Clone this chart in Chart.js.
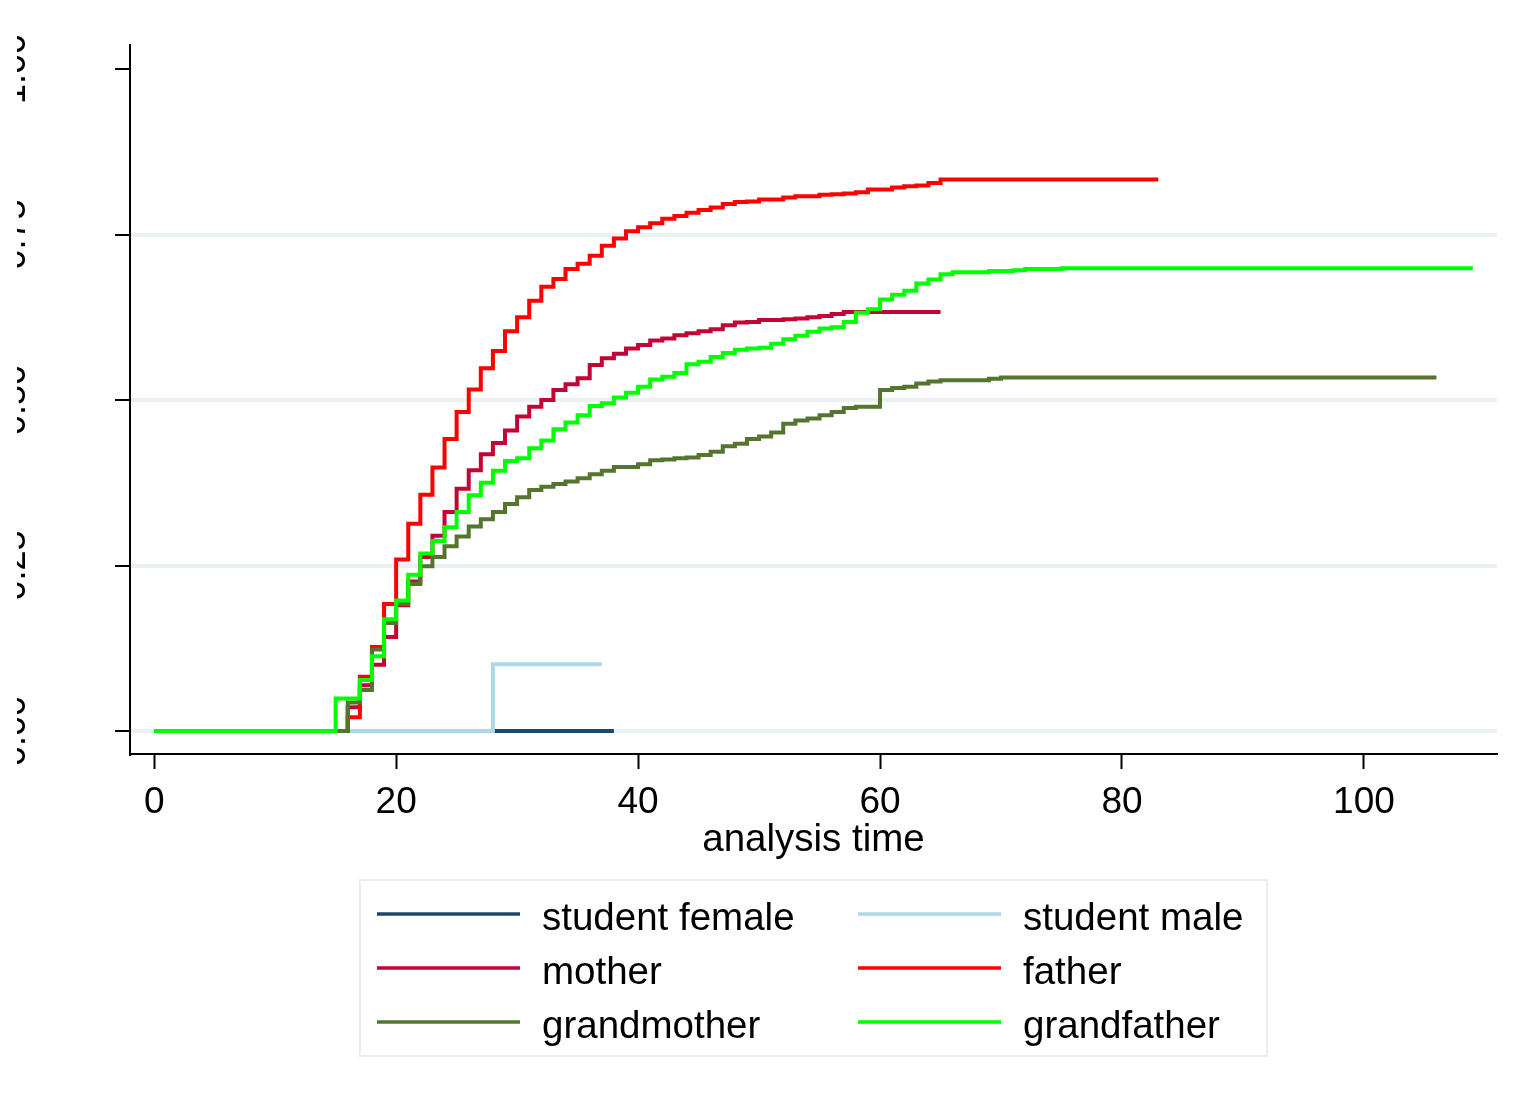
<!DOCTYPE html>
<html>
<head>
<meta charset="utf-8">
<title>Kaplan-Meier failure estimates</title>
<script src="https://cdn.jsdelivr.net/npm/chart.js@4.4.1/dist/chart.umd.min.js"></script>
<style>
    html, body { margin: 0; padding: 0; background: #fff; }
    #wrap { width: 1526px; height: 1102px; position: relative; }
</style>
</head>
<body>
<div id="wrap"><canvas id="km-chart"></canvas></div>
<script>
    const FONT = "'Liberation Sans', Arial, sans-serif";

    // tick labels
    const xTicks = [0, 20, 40, 60, 80, 100];
    const yTicks = [0, 0.25, 0.5, 0.75, 1];

    // series (drawn in this order, later ones on top)
    const seriesLabels = ["student female", "student male", "mother", "father", "grandmother", "grandfather"];
    const seriesColors = ["#1a476f", "#add8e6", "#c10534", "#ff0000", "#55752f", "#00ff00"];

    const studentFemaleTimes = [0, 38];
    const studentFemaleValues = [0, 0];

    const studentMaleTimes = [0, 28, 37];
    const studentMaleValues = [0, 0.101, 0.101];

    const motherTimes = [0, 16, 17, 18, 19, 20, 21, 22, 23, 24, 25, 26, 27, 28, 29, 30, 31, 32, 33, 34, 35,
        36, 37, 38, 39, 40, 41, 42, 43, 44, 45, 46, 47, 48, 49, 50, 52, 53, 54, 55, 56, 57, 65];
    const motherValues = [0, 0.036, 0.069, 0.100, 0.142, 0.190, 0.226, 0.263, 0.295, 0.331, 0.366, 0.394, 0.418,
        0.435, 0.454, 0.475, 0.490, 0.500, 0.515, 0.524, 0.533, 0.553, 0.563, 0.570, 0.578, 0.583, 0.590, 0.593,
        0.598, 0.601, 0.604, 0.607, 0.613, 0.617, 0.618, 0.621, 0.622, 0.623, 0.625, 0.627, 0.630, 0.633, 0.633];

    const fatherTimes = [0, 16, 17, 18, 19, 20, 21, 22, 23, 24, 25, 26, 27, 28, 29, 30, 31, 32, 33, 34, 35,
        36, 37, 38, 39, 40, 41, 42, 43, 44, 45, 46, 47, 48, 49, 50, 52, 53, 55, 56, 57, 58, 59, 61, 62, 63, 64, 65, 83];
    const fatherValues = [0, 0.021, 0.082, 0.127, 0.192, 0.259, 0.313, 0.357, 0.398, 0.441, 0.482, 0.516, 0.548,
        0.574, 0.604, 0.625, 0.650, 0.671, 0.683, 0.698, 0.706, 0.718, 0.733, 0.744, 0.755, 0.761, 0.767, 0.774,
        0.778, 0.783, 0.787, 0.791, 0.796, 0.799, 0.800, 0.803, 0.806, 0.808, 0.810, 0.811, 0.812, 0.814, 0.818,
        0.821, 0.823, 0.824, 0.828, 0.833, 0.833];

    const grandmotherTimes = [0, 16, 17, 18, 19, 20, 21, 22, 23, 24, 25, 26, 27, 28, 29, 30, 31, 32, 33, 34, 35,
        36, 37, 38, 40, 41, 42, 43, 44, 45, 46, 47, 48, 49, 50, 51, 52, 53, 54, 55, 56, 57, 58, 60, 61, 62, 63,
        64, 65, 69, 70, 106];
    const grandmotherValues = [0, 0.043, 0.062, 0.123, 0.163, 0.192, 0.222, 0.249, 0.263, 0.279, 0.294, 0.309,
        0.320, 0.331, 0.343, 0.353, 0.364, 0.369, 0.373, 0.377, 0.382, 0.388, 0.393, 0.399, 0.403, 0.409, 0.410,
        0.412, 0.413, 0.417, 0.422, 0.430, 0.434, 0.441, 0.445, 0.451, 0.464, 0.469, 0.472, 0.477, 0.482, 0.488,
        0.490, 0.515, 0.518, 0.520, 0.525, 0.528, 0.530, 0.532, 0.534, 0.534];

    const grandfatherTimes = [0, 15, 17, 18, 19, 20, 21, 22, 23, 24, 25, 26, 27, 28, 29, 30, 31, 32, 33, 34, 35,
        36, 37, 38, 39, 40, 41, 42, 43, 44, 45, 46, 47, 48, 49, 50, 51, 52, 53, 54, 55, 56, 57, 58, 59, 60, 61,
        62, 63, 64, 65, 66, 69, 71, 72, 75, 109];
    const grandfatherValues = [0, 0.049, 0.077, 0.113, 0.169, 0.197, 0.236, 0.268, 0.287, 0.308, 0.331, 0.356,
        0.375, 0.393, 0.408, 0.412, 0.427, 0.439, 0.456, 0.466, 0.477, 0.491, 0.495, 0.504, 0.511, 0.520, 0.531,
        0.535, 0.541, 0.554, 0.558, 0.565, 0.571, 0.576, 0.578, 0.579, 0.585, 0.592, 0.597, 0.603, 0.608, 0.610,
        0.618, 0.632, 0.637, 0.652, 0.659, 0.665, 0.676, 0.682, 0.690, 0.693, 0.695, 0.696, 0.698, 0.699, 0.699];

    const seriesTimes = [studentFemaleTimes, studentMaleTimes, motherTimes, fatherTimes, grandmotherTimes, grandfatherTimes];
    const seriesValues = [studentFemaleValues, studentMaleValues, motherValues, fatherValues, grandmotherValues, grandfatherValues];

    // legend box under the axis title, two columns
    const boxLegend = {
        id: "boxLegend",
        afterDraw(chart) {
            const ctx = chart.ctx;
            const area = chart.chartArea;
            const boxW = 907, boxH = 176;
            const left = Math.round((area.left + area.right) / 2 - boxW / 2);
            const top = 880;
            ctx.save();
            ctx.strokeStyle = "#e8eef0";
            ctx.lineWidth = 2;
            ctx.strokeRect(left, top, boxW, boxH);
            ctx.font = "38.5px " + FONT;
            ctx.textBaseline = "middle";
            ctx.textAlign = "left";
            ctx.fillStyle = "#000";
            chart.data.datasets.forEach((ds, i) => {
                const col = i % 2;
                const row = Math.floor(i / 2);
                const x = left + 17 + col * 481;
                const y = top + 34 + row * 54;
                ctx.strokeStyle = ds.borderColor;
                ctx.lineWidth = 3.5;
                ctx.beginPath();
                ctx.moveTo(x, y);
                ctx.lineTo(x + 143, y);
                ctx.stroke();
                ctx.fillText(ds.label, x + 165, y + 5);
            });
            ctx.restore();
        }
    };

    // the y labels are cut off at the left edge of the picture
    const leftCrop = {
        id: "leftCrop",
        afterDraw(chart) {
            const ctx = chart.ctx;
            ctx.save();
            ctx.fillStyle = "#fff";
            ctx.fillRect(0, 0, 17, chart.chartArea.bottom + 20);
            ctx.restore();
        }
    };

    const datasets = seriesLabels.map((label, i) => ({
        label: label,
        data: seriesTimes[i].map((t, j) => ({ x: t, y: seriesValues[i][j] })),
        borderColor: seriesColors[i],
        backgroundColor: seriesColors[i],
        borderWidth: 4,
        stepped: "before",
        pointRadius: 0,
        fill: false,
        order: seriesLabels.length - 1 - i,
    }));

    const config = {
        type: "line",
        data: { datasets: datasets },
        options: {
            responsive: true,
            maintainAspectRatio: false,
            animation: false,
            devicePixelRatio: 1,
            layout: { padding: { left: 0, top: 45, right: 29, bottom: 238 } },
            plugins: {
                legend: { display: false },
                tooltip: { enabled: false },
            },
            scales: {
                x: {
                    type: "linear",
                    min: -2,
                    max: 111,
                    afterBuildTicks: (scale) => {
                        scale.ticks = xTicks.map((v) => ({ value: v }));
                    },
                    afterFit: (scale) => {
                        scale.height = 110;
                        scale.paddingLeft = 0;
                        scale.paddingRight = 0;
                    },
                    border: { display: true, color: "#000", width: 2 },
                    grid: {
                        drawOnChartArea: false,
                        drawTicks: true,
                        tickLength: 15,
                        tickColor: "#000",
                        tickWidth: 2,
                    },
                    ticks: {
                        autoSkip: false,
                        maxRotation: 0,
                        padding: 12,
                        color: "#000",
                        font: { family: FONT, size: 37 },
                        callback: (v) => String(v),
                    },
                    title: {
                        display: true,
                        text: "analysis time",
                        color: "#000",
                        font: { family: FONT, size: 38.5 },
                        padding: { top: 0, bottom: 1 },
                    },
                },
                y: {
                    type: "linear",
                    min: -0.0347,
                    max: 1.0363,
                    afterBuildTicks: (scale) => {
                        scale.ticks = yTicks.map((v) => ({ value: v }));
                    },
                    afterFit: (scale) => {
                        scale.width = 130;
                        scale.paddingTop = 0;
                        scale.paddingBottom = 0;
                    },
                    border: { display: true, color: "#000", width: 2 },
                    grid: {
                        drawOnChartArea: true,
                        drawTicks: true,
                        tickLength: 15,
                        tickColor: "#000",
                        tickWidth: 2,
                        lineWidth: 4,
                        color: (ctx) => (ctx.tick && ctx.tick.value === 1 ? "rgba(0,0,0,0)" : "#e9f1f3"),
                    },
                    ticks: {
                        autoSkip: false,
                        minRotation: 90,
                        maxRotation: 90,
                        crossAlign: "center",
                        padding: 65,
                        color: "#000",
                        font: { family: FONT, size: 36 },
                        callback: (v) => Number(v).toFixed(2),
                    },
                },
            },
        },
        plugins: [boxLegend, leftCrop],
    };

    const context = document.getElementById("km-chart");
    const kmChart = new Chart(context, config);
</script>
</body>
</html>
